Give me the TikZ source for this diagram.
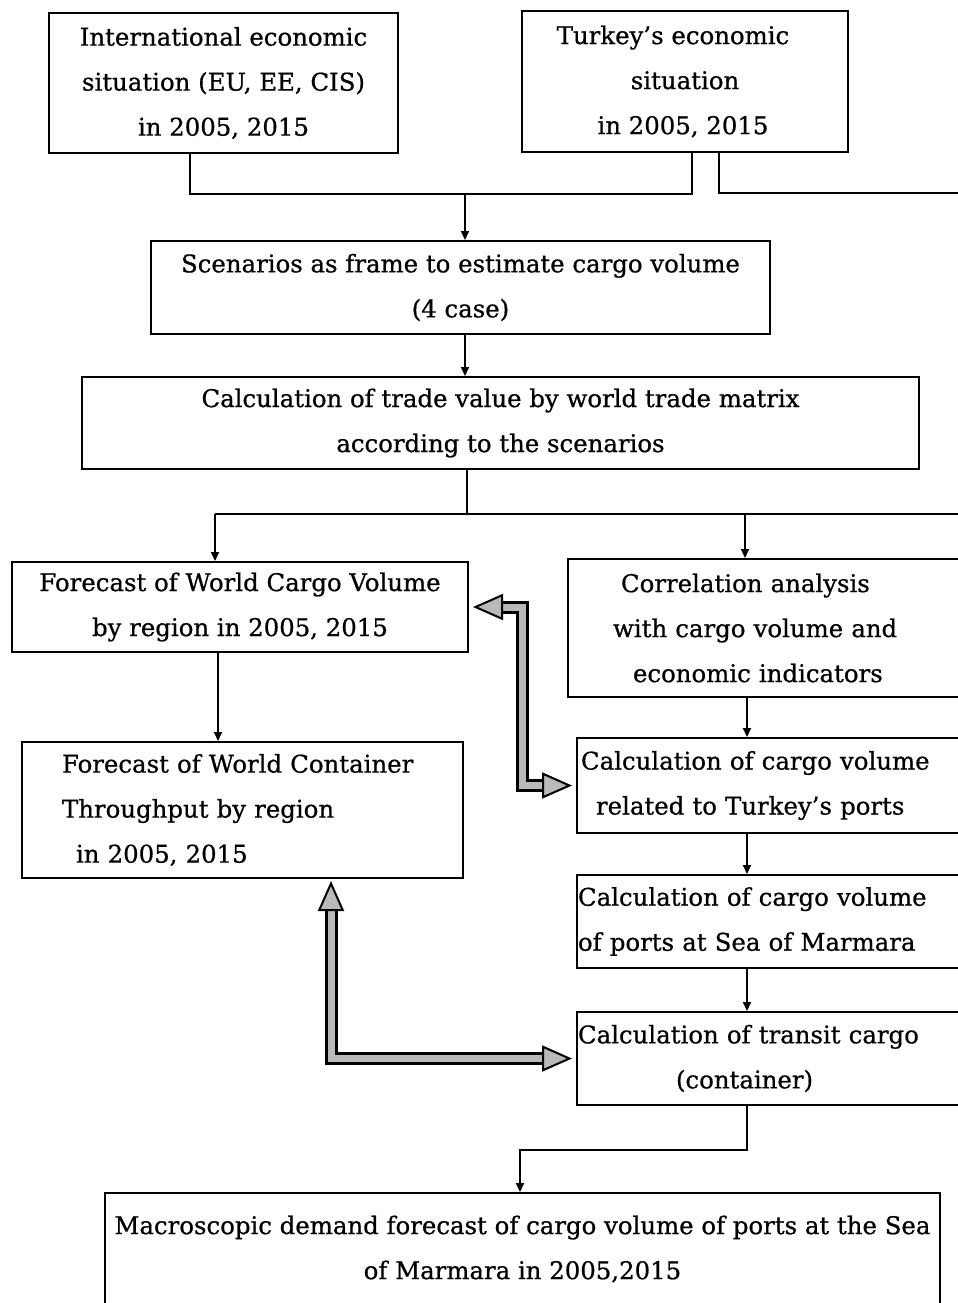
\documentclass[tikz,border=0pt]{standalone}
\usepackage{fontspec}
\newfontfamily\diagfont{DejaVu Serif}[Ligatures=TeX, FakeBold=0.7]
\usetikzlibrary{arrows.meta,calc}

\tikzset{
  FatTip/.tip={Triangle[length=15pt,width=13pt,fill=gray!55,line width=1pt]},
  box/.style={draw, line width=1pt, rectangle, inner sep=0pt, align=center,
              font=\diagfont\fontsize{12.2}{22.5}\selectfont},
  lbox/.style={box, align=left},
  conn/.style={line width=1pt},
  arr/.style={conn, -{Triangle[length=4.5pt,width=4pt]}},
  fat/.style={draw=black, line width=1.5pt, double=gray!55, double distance=3.5pt,
              line join=miter, FatTip-FatTip},
}

\begin{document}
\begin{tikzpicture}[x=0.5pt, y=-0.5pt]
  \useasboundingbox (0,0) rectangle (958,1303);
  \fill[white] (0,0) rectangle (958,1303);
  \clip (0,0) rectangle (958,1303);

  % boxes
  \node[box, minimum width=174.5pt, minimum height=70pt] (intl) at (223.5,83)
    {International economic\\situation (EU, EE, CIS)\\in 2005, 2015};
  \node[box, minimum width=163pt, minimum height=70.5pt] (turk) at (685,81.5)
    {Turkey’s economic\hspace*{12pt}\\situation\hspace*{9pt}\\in 2005, 2015\hspace*{2pt}};
  \node[box, minimum width=309.5pt, minimum height=46.5pt] (scen) at (460.5,287.5)
    {Scenarios as frame to estimate cargo volume\\(4 case)};
  \node[box, minimum width=418.5pt, minimum height=46pt] (trade) at (500.5,423)
    {Calculation of trade value by world trade matrix\\according to the scenarios};
  \node[box, minimum width=228pt, minimum height=45pt] (fcv) at (240,607)
    {Forecast of World Cargo Volume\\by region in 2005, 2015};
  \node[lbox, inner xsep=22.5pt, text width=166pt, minimum height=69pt] (corr) at (779,628)
    {\mbox{\hspace*{4pt}Correlation analysis}\\\mbox{with cargo volume and}\\\mbox{\hspace*{10pt}economic indicators}};
  \node[lbox, inner xsep=20pt, text width=180.5pt, minimum height=68pt] (fwc) at (242.5,810)
    {\mbox{Forecast of World Container}\\\mbox{Throughput by region}\\\mbox{\hspace*{7pt}in 2005, 2015}};
  \node[lbox, inner xsep=2pt, text width=202.5pt, minimum height=47.5pt] (tport) at (783.5,785.5)
    {\mbox{Calculation of cargo volume}\\\mbox{\hspace*{7.5pt}related to Turkey’s ports}};
  \node[lbox, inner xsep=0.5pt, text width=205.5pt, minimum height=46.5pt] (marm) at (783.5,921.5)
    {\mbox{Calculation of cargo volume}\\\mbox{of ports at Sea of Marmara}};
  \node[lbox, inner xsep=0.5pt, text width=205.5pt, minimum height=46.5pt] (trans) at (783.5,1058.5)
    {\mbox{Calculation of transit cargo}\\\mbox{\hspace*{49pt}(container)}};
  \node[box, minimum width=417.5pt, minimum height=56pt] (macro) at (522.5,1249)
    {Macroscopic demand forecast of cargo volume of ports at the Sea\\of Marmara in 2005,2015};

  % routing points
  \coordinate (j1) at (465,194);
  \coordinate (s1) at (190,0);
  \coordinate (s2) at (692,0);
  \coordinate (s3) at (719,0);
  \coordinate (offR) at (990,193);
  \coordinate (j2) at (467,514);
  \coordinate (sL) at (215,514);
  \coordinate (sM) at (745,514);
  \coordinate (sR) at (990,514);
  \coordinate (v1) at (218,0);
  \coordinate (v2) at (747,0);
  \coordinate (j4) at (520,1150);
  \coordinate (k1) at (522,0);
  \coordinate (k2) at (331,0);

  % thin connectors
  \draw[conn] (s1 |- intl.south) |- (s2 |- j1) -- (s2 |- turk.south);
  \draw[arr] (j1) -- (j1 |- scen.north);
  \draw[conn] (s3 |- turk.south) |- (offR);
  \draw[arr] (j1 |- scen.south) -- (j1 |- trade.north);
  \draw[conn] (j2 |- trade.south) -- (j2);
  \draw[conn] (sL) -- (sR);
  \draw[arr] (sL) -- (sL |- fcv.north);
  \draw[arr] (sM) -- (sM |- corr.north);
  \draw[arr] (v1 |- fcv.south) -- (v1 |- fwc.north);
  \draw[arr] (v2 |- corr.south) -- (v2 |- tport.north);
  \draw[arr] (v2 |- tport.south) -- (v2 |- marm.north);
  \draw[arr] (v2 |- marm.south) -- (v2 |- trans.north);
  \draw[arr] (v2 |- trans.south) |- (j4) -- (j4 |- macro.north);

  % wide two-way arrows
  \draw[fat] ([xshift=2pt]fcv.east) -| (k1 |- tport.west) -- ([xshift=-2pt]tport.west);
  \draw[fat] ([yshift=-1pt]fwc.south -| k2) |- ([xshift=-2pt]trans.west);
\end{tikzpicture}
\end{document}
